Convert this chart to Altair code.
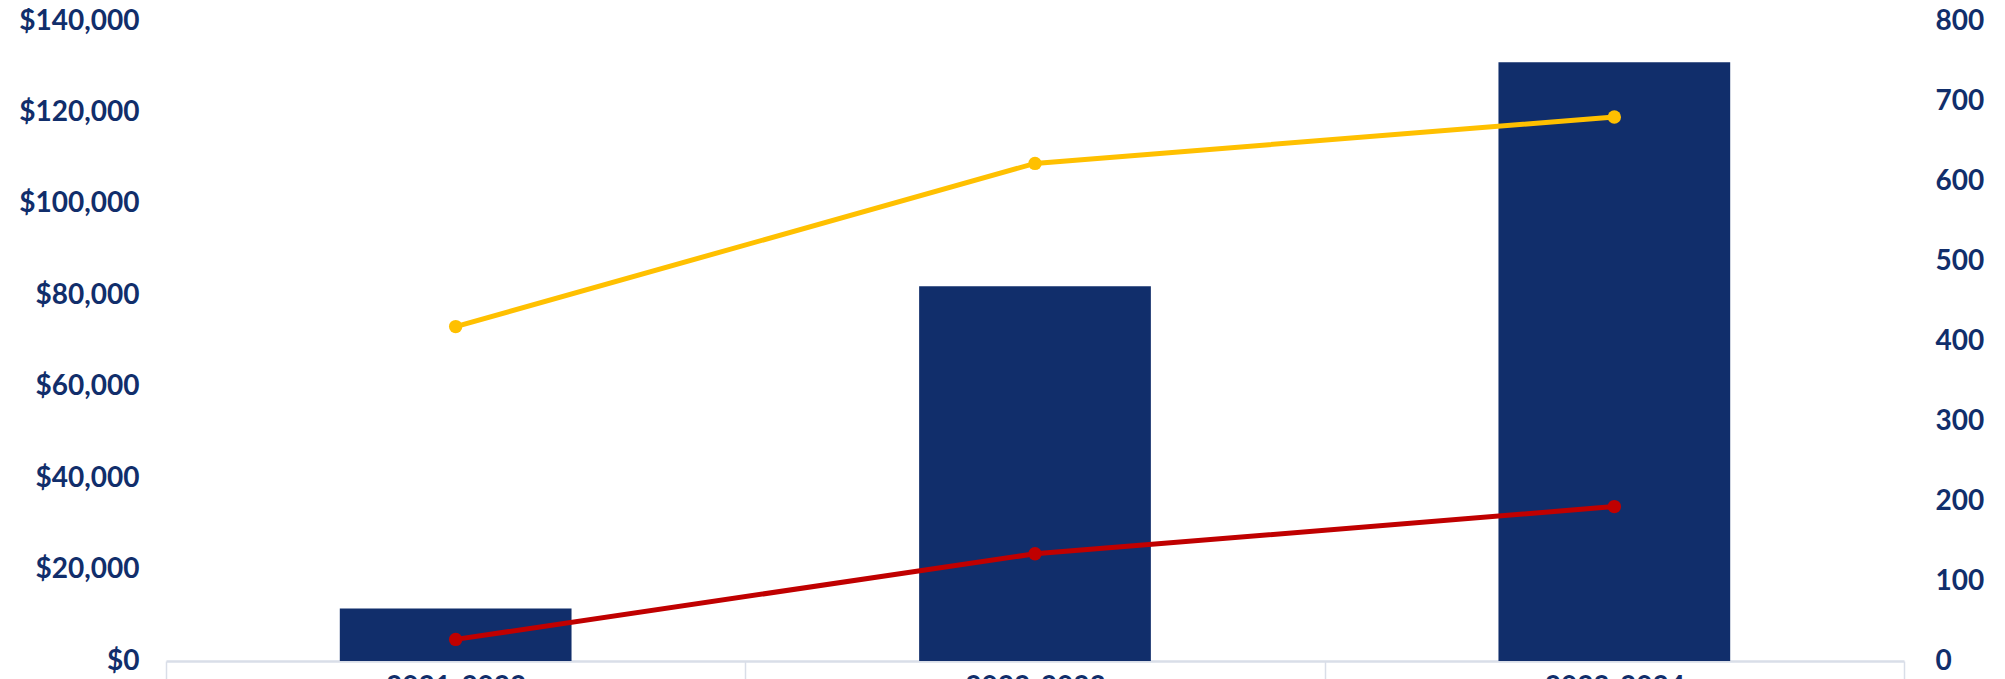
import altair as alt
import pandas as pd

years = ["2021-2022", "2022-2023", "2023-2024"]
amount = [11500, 82000, 131000]
line_a = [418, 622, 680]
line_b = [27, 134, 193]

NAVY = "#112E6B"
YELLOW = "#FFC000"
RED = "#C00000"
FONT = "Lato"
FS = 28

bars_df = pd.DataFrame({"year": years, "amount": amount})
lines_df = pd.DataFrame({
    "year": years * 2,
    "value": line_a + line_b,
    "series": ["A"] * 3 + ["B"] * 3,
})

x_enc = alt.X(
    "year:N",
    sort=years,
    title=None,
    scale=alt.Scale(paddingInner=0, paddingOuter=0),
    axis=alt.Axis(
        labelAngle=0,
        labelFont=FONT,
        labelFontSize=FS,
        labelFontWeight="bold",
        labelColor=NAVY,
        labelBaseline="top",
        domainColor="#D9DEE8",
        domainWidth=2.5,
        tickColor="#D9DEE8",
        tickWidth=1.5,
        tickSize=40,
        tickBand="extent",
        labelPadding=-28,
        grid=False,
    ),
)

bars = alt.Chart(bars_df).mark_bar(color=NAVY, width=alt.RelativeBandSize(0.4)).encode(
    x=x_enc,
    y=alt.Y(
        "amount:Q",
        title=None,
        scale=alt.Scale(domain=[0, 140000], nice=False),
        axis=alt.Axis(
            values=list(range(0, 140001, 20000)),
            format="$,.0f",
            labelFont=FONT,
            labelFontSize=FS,
            labelFontWeight="bold",
            labelColor=NAVY,
            domain=False,
            ticks=False,
            grid=False,
            labelPadding=27,
        ),
    ),
)

lines = alt.Chart(lines_df).mark_line(
    strokeWidth=5,
    point=alt.OverlayMarkDef(size=180, filled=True, opacity=1),
).encode(
    x=alt.X("year:N", sort=years),
    y=alt.Y(
        "value:Q",
        title=None,
        scale=alt.Scale(domain=[0, 800], nice=False),
        axis=alt.Axis(
            orient="right",
            values=list(range(0, 801, 100)),
            labelFont=FONT,
            labelFontSize=FS,
            labelFontWeight="bold",
            labelColor=NAVY,
            domain=False,
            ticks=False,
            grid=False,
            labelPadding=31,
        ),
    ),
    color=alt.Color(
        "series:N",
        scale=alt.Scale(domain=["A", "B"], range=[YELLOW, RED]),
        legend=None,
    ),
)

chart = (
    alt.layer(bars, lines)
    .resolve_scale(y="independent")
    .properties(
        width=1738,
        height=640,
        padding={"left": 158, "top": 13, "right": 90, "bottom": 30},
        autosize=alt.AutoSizeParams(type="none"),
        background="white",
    )
    .configure_view(stroke=None)
)

chart.save("out.html", embed_options={"renderer": "svg", "actions": False})
